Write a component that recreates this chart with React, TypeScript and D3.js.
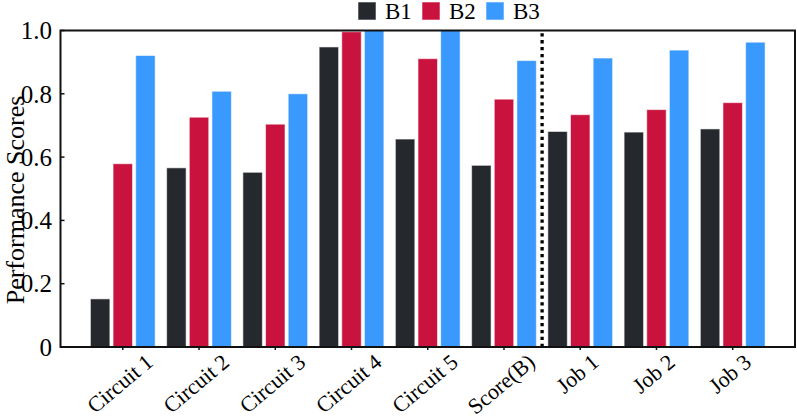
import React, { useRef, useEffect } from 'react';
import * as d3 from 'd3';

const categories = ['Circuit 1', 'Circuit 2', 'Circuit 3', 'Circuit 4', 'Circuit 5', 'Score(B)', 'Job 1', 'Job 2', 'Job 3'];
const seriesNames = ['B1', 'B2', 'B3'];
const b1Values = [0.152, 0.566, 0.552, 0.948, 0.657, 0.574, 0.681, 0.679, 0.689];
const b2Values = [0.579, 0.726, 0.704, 0.996, 0.911, 0.783, 0.734, 0.75, 0.772];
const b3Values = [0.921, 0.808, 0.8, 1.0, 1.0, 0.905, 0.913, 0.938, 0.963];
const yTicks = [0, 0.2, 0.4, 0.6, 0.8, 1.0];
const yTickLabels = ['0', '0.2', '0.4', '0.6', '0.8', '1.0'];
const colors = ['#25292e', '#c9133e', '#3a99fd'];
const separatorAt = 5.5;

const width = 797;
const height = 419;

const App: React.FC = () => {
  const svgRef = useRef<SVGSVGElement>(null);

  useEffect(() => {
    if (!svgRef.current) return;
    const svg = d3.select(svgRef.current);
    svg.selectAll('*').remove();

    const left = 60.5;
    const right = 795;
    const top = 30.5;
    const bottom = 347;
    const font = '"Liberation Serif", "Times New Roman", serif';

    // x in category units, matplotlib-like margins
    const xScale = d3.scaleLinear().domain([-0.817, categories.length - 1 + 0.817]).range([left, right]);
    const yScale = d3.scaleLinear().domain([0, 1]).range([bottom, top]);

    const barW = 0.255;
    const barOff = 0.297;
    const series = [b1Values, b2Values, b3Values];

    const defs = svg.append('defs');
    defs.append('clipPath').attr('id', 'plotclip')
      .append('rect').attr('x', left).attr('y', top).attr('width', right - left).attr('height', bottom - top);

    const plot = svg.append('g').attr('clip-path', 'url(#plotclip)');

    series.forEach((vals, si) => {
      plot.selectAll(`.bar-${si}`)
        .data(vals)
        .enter()
        .append('rect')
        .attr('class', `bar-${si}`)
        .attr('x', (_, i) => xScale(i + (si - 1) * barOff - barW / 2))
        .attr('width', xScale(barW) - xScale(0))
        .attr('y', d => yScale(d))
        .attr('height', d => yScale(0) - yScale(d))
        .attr('fill', colors[si])
        .attr('stroke', 'rgba(255,255,255,0.55)')
        .attr('stroke-width', 1);
    });

    // dotted separator
    plot.append('line')
      .attr('x1', xScale(separatorAt)).attr('x2', xScale(separatorAt))
      .attr('y1', bottom).attr('y2', top)
      .attr('stroke', '#000')
      .attr('stroke-width', 3.3)
      .attr('stroke-dasharray', '3.3,3.6');

    // frame
    svg.append('rect')
      .attr('x', left).attr('y', top)
      .attr('width', right - left).attr('height', bottom - top)
      .attr('fill', 'none')
      .attr('stroke', '#111')
      .attr('stroke-width', 2);

    // y ticks (inward) + labels
    yTicks.forEach((t, i) => {
      svg.append('line')
        .attr('x1', left).attr('x2', left + 4)
        .attr('y1', yScale(t)).attr('y2', yScale(t))
        .attr('stroke', '#111').attr('stroke-width', 1.5);
      svg.append('text')
        .attr('x', 52).attr('y', yScale(t))
        .attr('dy', '0.35em')
        .attr('text-anchor', 'end')
        .style('font-family', font)
        .style('font-size', '25px')
        .attr('fill', '#000')
        .text(yTickLabels[i]);
    });

    svg.append('text')
      .attr('transform', `translate(15,200) rotate(-90)`)
      .attr('text-anchor', 'middle')
      .attr('dy', '0.35em')
      .style('font-family', font)
      .style('font-size', '26px')
      .attr('fill', '#000')
      .text('Performance Scores');

    // x ticks + rotated labels (bbox centred under tick)
    const angle = 40;
    const rad = (angle * Math.PI) / 180;
    const fs = 22;
    categories.forEach((c, i) => {
      const x = xScale(i);
      svg.append('line')
        .attr('x1', x).attr('x2', x)
        .attr('y1', bottom).attr('y2', bottom + 3)
        .attr('stroke', '#111').attr('stroke-width', 1.5);
      const t = svg.append('text')
        .attr('text-anchor', 'middle')
        .attr('dy', '0.35em')
        .style('font-family', font)
        .style('font-size', `${fs}px`)
        .attr('fill', '#000')
        .text(c);
      const len = (t.node() as SVGTextElement).getComputedTextLength();
      const boxH = len * Math.sin(rad) + fs * Math.cos(rad);
      const cy = bottom + 3 + boxH / 2;
      t.attr('transform', `translate(${x - 3},${cy}) rotate(${-angle})`);
    });

    // legend
    const legendX = [358, 422, 486];
    seriesNames.forEach((name, i) => {
      svg.append('rect')
        .attr('x', legendX[i]).attr('y', 2)
        .attr('width', 18).attr('height', 18)
        .attr('fill', colors[i])
        .attr('stroke', 'rgba(255,255,255,0.55)');
      svg.append('text')
        .attr('x', legendX[i] + 27).attr('y', 19)
        .style('font-family', font)
        .style('font-size', '23px')
        .attr('fill', '#000')
        .text(name);
    });
  }, []);

  return (
    <svg
      ref={svgRef}
      width={width}
      height={height}
      style={{ position: 'absolute', left: 0, top: 0, background: '#fff' }}
    />
  );
};

export default App;
